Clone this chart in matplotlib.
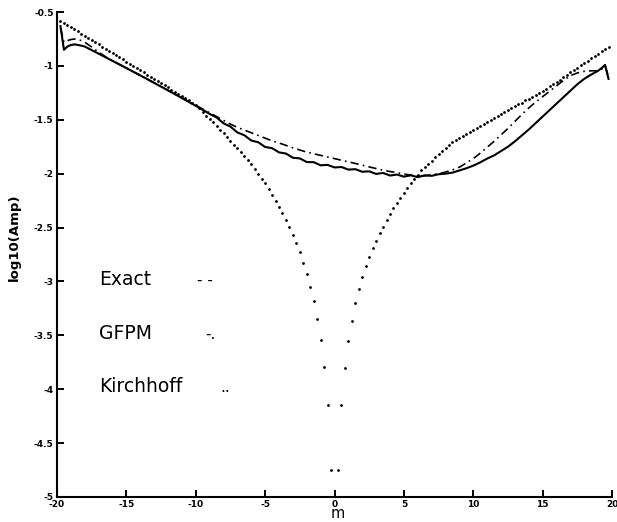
import numpy as np
import matplotlib
matplotlib.use('Agg')
import matplotlib.pyplot as plt

plt.rc('font', family='DejaVu Sans')
plt.rc('axes', unicode_minus=False)

# sample positions of the two solved curves
m_line = [-19.75, -19.5, -19.25, -19.0, -18.75, -18.5, -18.25, -18.0,
          -17.5, -17.0, -16.5, -16.0, -15.5, -15.0, -14.5, -14.0, -13.5, -13.0,
          -12.5, -12.0, -11.5, -11.0, -10.5, -10.0, -9.5, -9.0, -8.5, -8.0,
          -7.5, -7.0, -6.5, -6.0, -5.5, -5.0, -4.5, -4.0, -3.5, -3.0,
          -2.5, -2.0, -1.5, -1.0, -0.5, 0.0, 0.5, 1.0, 1.5, 2.0,
          2.5, 3.0, 3.5, 4.0, 4.5, 5.0, 5.5, 6.0, 6.5, 7.0,
          7.5, 8.0, 8.5, 9.0, 9.5, 10.0, 10.5, 11.0, 11.5, 12.0,
          12.5, 13.0, 13.5, 14.0, 14.5, 15.0, 15.5, 16.0, 16.5, 17.0,
          17.5, 18.0, 18.5, 19.0, 19.25, 19.5, 19.75]

exact = [-0.63, -0.85, -0.82, -0.806, -0.80, -0.805, -0.812, -0.82,
         -0.853, -0.886, -0.92, -0.953, -0.986, -1.02, -1.054, -1.088, -1.122, -1.157,
         -1.192, -1.227, -1.262, -1.298, -1.334, -1.37, -1.407, -1.445, -1.478, -1.532,
         -1.563, -1.617, -1.643, -1.692, -1.708, -1.752, -1.763, -1.802, -1.813, -1.852,
         -1.858, -1.892, -1.893, -1.922, -1.918, -1.942, -1.938, -1.962, -1.958, -1.982,
         -1.978, -2.002, -1.993, -2.017, -2.008, -2.027, -2.015, -2.032, -2.015, -2.02,
         -2.005, -2.0, -1.99, -1.97, -1.95, -1.925, -1.895, -1.86, -1.83, -1.79,
         -1.75, -1.70, -1.645, -1.59, -1.53, -1.47, -1.41, -1.35, -1.29, -1.23,
         -1.17, -1.12, -1.08, -1.045, -1.02, -0.99, -1.12]

gfpm = [-0.65, -0.78, -0.765, -0.755, -0.75, -0.755, -0.765, -0.78,
        -0.825, -0.872, -0.915, -0.953, -0.986, -1.02, -1.054, -1.088, -1.122, -1.157,
        -1.192, -1.227, -1.262, -1.296, -1.33, -1.365, -1.40, -1.435, -1.47, -1.505,
        -1.54, -1.57, -1.595, -1.62, -1.645, -1.67, -1.695, -1.715, -1.737, -1.76,
        -1.78, -1.80, -1.815, -1.83, -1.845, -1.86, -1.875, -1.89, -1.905, -1.92,
        -1.937, -1.952, -1.967, -1.98, -1.99, -2.003, -2.013, -2.02, -2.02, -2.01,
        -2.0, -1.985, -1.965, -1.94, -1.90, -1.86, -1.81, -1.755, -1.70, -1.64,
        -1.58, -1.515, -1.45, -1.39, -1.335, -1.285, -1.235, -1.185, -1.135, -1.09,
        -1.065, -1.05, -1.045, -1.045, -1.03, -1.0, -1.10]

# Kirchhoff is sampled every 0.25, m = 0 is left out (log of zero)
m_dots = np.r_[np.arange(-19.75, 0, 0.25), np.arange(0.25, 20, 0.25)]

kirchhoff = [
    # m = -19.75 ... -10.25
    -0.58, -0.60, -0.62, -0.64, -0.66, -0.68, -0.70, -0.72, -0.74, -0.76,
    -0.78, -0.80, -0.82, -0.84, -0.86, -0.88, -0.90, -0.92, -0.94, -0.96,
    -0.98, -1.00, -1.02, -1.04, -1.06, -1.08, -1.10, -1.12, -1.14, -1.16,
    -1.18, -1.20, -1.22, -1.24, -1.26, -1.28, -1.30, -1.32, -1.34,
    # m = -10.0 ... -0.25
    -1.365, -1.39, -1.425, -1.46, -1.49, -1.52, -1.555, -1.59, -1.62, -1.66,
    -1.70, -1.73, -1.765, -1.80, -1.84, -1.87, -1.91, -1.955, -2.00, -2.045,
    -2.09, -2.145, -2.195, -2.25, -2.305, -2.365, -2.43, -2.495, -2.57, -2.645,
    -2.73, -2.825, -2.93, -3.05, -3.185, -3.345, -3.54, -3.79, -4.15, -4.75,
    # m = 0.25 ... 9.75
    -4.75, -4.15, -3.80, -3.555, -3.37, -3.20, -3.07, -2.96, -2.86, -2.77,
    -2.69, -2.62, -2.55, -2.49, -2.43, -2.37, -2.32, -2.27, -2.225, -2.18,
    -2.13, -2.09, -2.05, -2.01, -1.97, -1.94, -1.91, -1.88, -1.845, -1.82,
    -1.79, -1.76, -1.735, -1.71, -1.69, -1.67, -1.65, -1.635, -1.615,
    # m = 10.0 ... 19.75
    -1.595, -1.58, -1.56, -1.54, -1.52, -1.505, -1.485, -1.465, -1.45, -1.43,
    -1.41, -1.39, -1.375, -1.355, -1.34, -1.32, -1.305, -1.285, -1.27, -1.25,
    -1.235, -1.215, -1.19, -1.17, -1.15, -1.13, -1.105, -1.085, -1.06, -1.04,
    -1.02, -0.995, -0.975, -0.955, -0.93, -0.91, -0.89, -0.865, -0.845, -0.825]

x_ticks = [-20, -15, -10, -5, 0, 5, 10, 15, 20]
y_ticks = [-5, -4.5, -4, -3.5, -3, -2.5, -2, -1.5, -1, -0.5]

# curve names written inside the plot, with the line code after each
key_names = ['Exact', 'GFPM', 'Kirchhoff']
key_codes = ['- -', '-.', '..']

fig = plt.figure(figsize=(6.17, 5.22), dpi=100)
ax = fig.add_axes([0.0924, 0.0479, 0.8995, 0.929])

ax.plot(m_line, exact, color='black', lw=1.5)
ax.plot(m_line, gfpm, color='black', lw=1.2, linestyle=(0, (5, 2.5, 1, 2.5)))
ax.plot(m_dots, kirchhoff, linestyle='none', marker='o', ms=2.0,
        mfc='black', mec='black', mew=0)

ax.set_xlim(-20, 20)
ax.set_ylim(-5, -0.5)
ax.set_xticks(x_ticks)
ax.set_yticks(y_ticks)
ax.set_xticklabels(['%g' % v for v in x_ticks])
ax.set_yticklabels(['%g' % v for v in y_ticks])
ax.tick_params(direction='in', length=5, width=1.4, labelsize=6.5, pad=2.5)
for lab in ax.get_xticklabels() + ax.get_yticklabels():
    lab.set_fontweight('bold')

ax.spines['top'].set_visible(False)
ax.spines['right'].set_visible(False)
ax.spines['left'].set_linewidth(1.5)
ax.spines['bottom'].set_linewidth(1.5)

ax.set_xlabel('m', fontsize=10.5)
ax.xaxis.set_label_coords(0.506, -0.019)
ax.set_ylabel('log10(Amp)', fontsize=9.5, fontweight='bold')
ax.yaxis.set_label_coords(-0.066, 0.536)

key_y = [-3.037, -3.537, -4.028]
code_x = [-9.9, -9.3, -8.2]
for name, code, yk, xc in zip(key_names, key_codes, key_y, code_x):
    ax.text(-16.98, yk, name, fontsize=13.5, va='baseline', ha='left')
    ax.text(xc, yk, code, fontsize=11, va='baseline', ha='left')

plt.savefig('out.png', dpi=100)
